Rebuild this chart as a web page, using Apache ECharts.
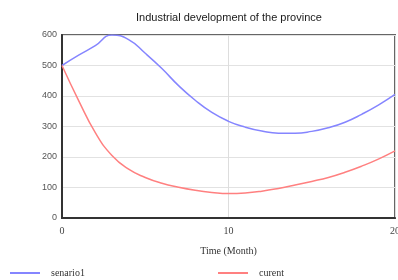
<!DOCTYPE html>
<html>
<head>
<meta charset="utf-8">
<script src="https://cdn.jsdelivr.net/npm/echarts@6/dist/echarts.min.js"></script>
<style>
  html, body { margin: 0; padding: 0; background: #fff; }
  #chart { width: 398px; height: 280px; }
</style>
</head>
<body>
<div id="chart"></div>
<script>
  // time in months
  var months = [0, 1, 2, 3, 4, 5, 6, 7, 8, 9, 10, 11, 12, 13, 14, 15, 16, 17, 18, 19, 20]
  // senario1
  var senario1 = [500, 534, 565, 600, 585, 540, 490, 434, 386, 346, 317, 298, 285, 278, 278, 284, 296, 314, 340, 370, 405]
  // curent
  var curent = [500, 385, 280, 205, 160, 133, 114, 101, 91, 84, 80, 82, 88, 97, 108, 120, 133, 150, 170, 193, 220]
  var xTicks = [0, 10, 20]
  var yTicks = [0, 100, 200, 300, 400, 500, 600]

  var serif = '"Liberation Serif", "DejaVu Serif", serif'
  var sans = '"Liberation Sans", Arial, sans-serif'

  function pairs(vals) {
    return months.map(function (m, i) { return [m, vals[i]] })
  }

  var chart = echarts.init(document.getElementById('chart'))
  chart.setOption({
    animation: false,
    title: {
      text: 'Industrial development of the province',
      left: 131,
      top: 7,
      textStyle: {fontFamily: sans, fontSize: 11, fontWeight: 'normal', color: '#1a1a1a'}
    },
    legend: [
      {
        data: ['senario1'], left: 5, top: 263, icon: 'rect', itemWidth: 30, itemHeight: 2,
        textStyle: {fontFamily: serif, fontSize: 10, color: '#333', padding: [0, 0, 0, 6]}
      },
      {
        data: ['curent'], left: 213, top: 263, icon: 'rect', itemWidth: 30, itemHeight: 2,
        textStyle: {fontFamily: serif, fontSize: 10, color: '#333', padding: [0, 0, 0, 6]}
      }
    ],
    grid: {
      left: 62, right: 3, top: 35, bottom: 62,
      outerBoundsMode: 'none',
      show: true, borderColor: '#666', borderWidth: 2
    },
    xAxis: {
      type: 'value',
      min: xTicks[0], max: xTicks[xTicks.length - 1], interval: 10,
      name: 'Time (Month)', nameLocation: 'middle', nameGap: 28,
      nameTextStyle: {fontFamily: serif, fontSize: 10, color: '#333'},
      axisLine: {lineStyle: {color: '#333', width: 2}},
      axisTick: {show: false},
      axisLabel: {fontFamily: serif, fontSize: 10, color: '#444', margin: 8},
      splitLine: {show: true, lineStyle: {color: '#ddd'}}
    },
    yAxis: {
      type: 'value',
      min: yTicks[0], max: yTicks[yTicks.length - 1], interval: 100,
      axisLine: {show: true, lineStyle: {color: '#333', width: 2}},
      axisTick: {show: false},
      axisLabel: {fontFamily: sans, fontSize: 9, color: '#555', margin: 5},
      splitLine: {lineStyle: {color: '#e2e2e2'}}
    },
    series: [
      {
        name: 'senario1', type: 'line', smooth: true, showSymbol: false,
        data: pairs(senario1),
        itemStyle: {color: '#8585ff'},
        lineStyle: {color: '#8585ff', width: 1.5}
      },
      {
        name: 'curent', type: 'line', smooth: true, showSymbol: false,
        data: pairs(curent),
        itemStyle: {color: '#ff8080'},
        lineStyle: {color: '#ff8080', width: 1.5}
      }
    ]
  })
</script>
</body>
</html>
